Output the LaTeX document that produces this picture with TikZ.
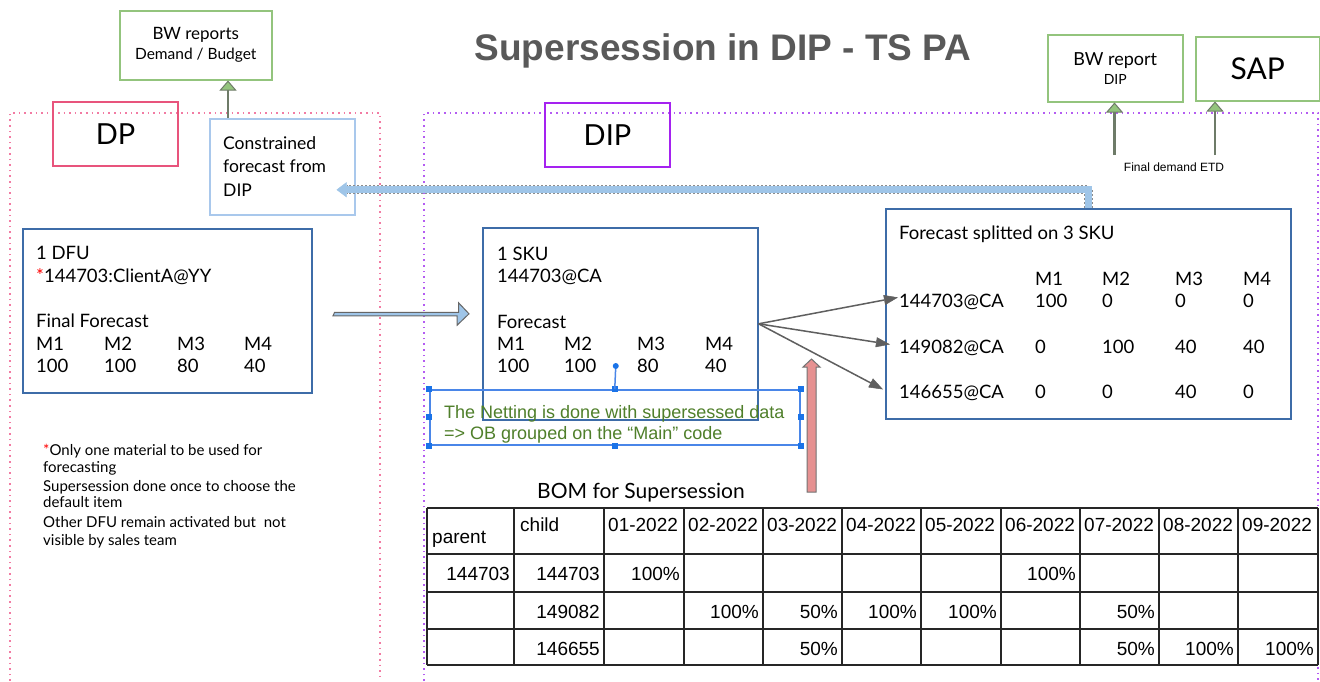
\documentclass[tikz,border=0pt]{standalone}
\usepackage{fontspec}
\setmainfont{Lato}
\newfontfamily\arialfont{Liberation Sans}
\usetikzlibrary{arrows.meta,calc}

\definecolor{bwgreen}{HTML}{93C47D}
\definecolor{arrowgreen}{HTML}{6E7B68}
\definecolor{dppink}{HTML}{E8547C}
\definecolor{dpframe}{HTML}{F27BA3}
\definecolor{dippurple}{HTML}{A522F0}
\definecolor{dipframe}{HTML}{B45CF2}
\definecolor{lightblue}{HTML}{A9C8EC}
\definecolor{boxblue}{HTML}{3D6CA8}
\definecolor{selblue}{HTML}{4A86E8}
\definecolor{handleblue}{HTML}{1A73E8}
\definecolor{netgreen}{HTML}{4F7F2A}
\definecolor{bandblue}{HTML}{9FC5E8}
\definecolor{redfill}{HTML}{E69191}
\definecolor{titlegray}{HTML}{595959}
\definecolor{arrowgray}{HTML}{5F5F5F}

\tikzset{
  box/.style={draw, line width=1.5pt, inner sep=0pt, anchor=north west, align=center},
  greenbox/.style={box, draw=bwgreen},
  bluebox/.style={box, draw=boxblue, line width=1.6pt},
  txt/.style={anchor=base west, inner sep=0pt, font=\fontsize{18.5}{22}\selectfont},
  note/.style={anchor=base west, inner sep=0pt, font=\fontsize{15}{18}\selectfont},
  num/.style={anchor=base east, inner sep=0pt, font=\arialfont\fontsize{19}{22}\selectfont},
  greenarrow/.style={draw=arrowgreen, line width=2.5pt, -{Triangle[length=10pt,width=17pt,fill=bwgreen,line width=1pt]}},
  grayarrow/.style={draw=arrowgray, line width=1.5pt, -{Triangle[length=14pt,width=10pt,line width=0.5pt]}},
  frame/.style={line width=1.6pt, dash pattern=on 1.6pt off 4pt},
  tableline/.style={draw=black!85, line width=1.5pt},
}

\begin{document}
\begin{tikzpicture}[x=1pt,y=-1pt]
\useasboundingbox[fill=white] (0,0) rectangle (1320,681);

% dotted frames
\draw[frame, dpframe] (10,681) -- (10,113) -- (380,113) -- (380,681);
\draw[frame, dipframe] (424,681) -- (424,113) -- (1318,113) -- (1318,681);

% title
\node[font=\arialfont\bfseries\fontsize{37}{40}\selectfont, text=titlegray, anchor=base] (title) at (723,60) {Supersession in DIP - TS PA};

% reports and systems
\node[greenbox, minimum width=152, minimum height=69, font=\fontsize{17}{20}\selectfont] (bwrep) at (119,10) {BW reports\\{\fontsize{15.5}{18}\selectfont Demand / Budget}};
\node[greenbox, minimum width=135, minimum height=67, font=\fontsize{18}{19}\selectfont] (bwdip) at (1047,34) {BW report\\{\fontsize{14}{16}\selectfont DIP}};
\node[greenbox, minimum width=124, minimum height=64, font=\fontsize{30}{32}\selectfont] (sap) at (1195,36) {SAP};
\node[font=\arialfont\fontsize{12}{14}\selectfont, anchor=base] (etd) at (1174,171) {Final demand ETD};

% DP side
\node[box, draw=dppink, line width=2pt, minimum width=125, minimum height=64, font=\fontsize{29}{32}\selectfont] (dp) at (52,101) {DP};
\node[box, draw=lightblue, minimum width=145, minimum height=96] (cons) at (209,118) {};
\foreach \t [count=\i] in {Constrained, forecast from, DIP}
  \node[txt, font=\fontsize{17.5}{20}\selectfont] (cons\i) at (223,{149+23.5*(\i-1)}) {\t};

% DFU
\node[bluebox, minimum width=289, minimum height=164] (dfu) at (22,228) {};
\node[txt] (dfu1) at (36,259) {1 DFU};
\node[txt] (dfu2) at (36,282) {\textcolor{red}{*}144703:ClientA@YY};
\node[txt] (dfu3) at (36,327) {Final Forecast};
\foreach \x/\m/\v [count=\i] in {36/M1/100, 104/M2/100, 177/M3/80, 244/M4/40} {
  \node[txt] (dfum\i) at (\x,350) {\m};
  \node[txt] (dfuv\i) at (\x,372) {\v};
}

% notes
\foreach \y/\t [count=\i] in {455/{\textcolor{red}{*}Only one material to be used for}, 472/forecasting,
    491/Supersession done once to choose the, 507/default item,
    527/{Other DFU remain activated but\ \ not}, 545/visible by sales team}
  \node[note] (note\i) at (43,\y) {\t};

% DIP side
\node[box, draw=dippurple, line width=2pt, minimum width=125, minimum height=64, font=\fontsize{29}{32}\selectfont] (dip) at (544,102) {DIP};

% SKU
\node[bluebox, minimum width=275, minimum height=192] (sku) at (482,227) {};
\node[txt] (sku1) at (497,260) {1 SKU};
\node[txt] (sku2) at (497,282) {144703@CA};
\node[txt] (sku3) at (497,328) {Forecast};
\foreach \x/\m/\v [count=\i] in {497/M1/100, 564/M2/100, 637/M3/80, 705/M4/40} {
  \node[txt] (skum\i) at (\x,350) {\m};
  \node[txt] (skuv\i) at (\x,372) {\v};
}

% split on 3 SKU
\node[bluebox, minimum width=405, minimum height=210] (split) at (885,208) {};
\node[txt] (splittitle) at (899,239) {Forecast splitted on 3 SKU};
\foreach \x/\m [count=\i] in {1035/M1, 1102/M2, 1175/M3, 1243/M4}
  \node[txt] (splitm\i) at (\x,285) {\m};
\foreach \y/\s/\a/\b/\c/\d [count=\i] in {307/144703@CA/100/0/0/0, 353/149082@CA/0/100/40/40, 398/146655@CA/0/0/40/0} {
  \node[txt] (row\i) at (899,\y) {\s};
  \node[txt] (row\i a) at (1035,\y) {\a};
  \node[txt] (row\i b) at (1102,\y) {\b};
  \node[txt] (row\i c) at (1175,\y) {\c};
  \node[txt] (row\i d) at (1243,\y) {\d};
}

% netting text box (selected)
\node[box, draw=selblue, minimum width=370, minimum height=55] (netbox) at (429,389) {};
\foreach \a in {north west, north, north east, east, south east, south, south west, west}
  \fill[handleblue] (netbox.\a) ++(-3,-3) rectangle ++(6,6);
\draw[selblue, line width=1.5pt] (netbox.north) -- ++(1,-23) coordinate (rot);
\fill[handleblue] (rot) circle (3);
\node[anchor=base west, inner sep=0pt, text=netgreen, font=\arialfont\fontsize{18}{21}\selectfont] (net1) at (444,418) {The Netting is done with supersessed data};
\node[anchor=base west, inner sep=0pt, text=netgreen, font=\arialfont\fontsize{18}{21}\selectfont] (net2) at (444,439) {=> OB grouped on the “Main” code};

% arrows
\draw[greenarrow] ([xshift=19]cons.north west) -- ([xshift=19]cons.north west |- bwrep.south);
\coordinate (etdleft) at (1114.5,155);
\coordinate (etdright) at (1215,155);
\draw[greenarrow] (etdleft) -- (etdleft |- bwdip.south);
\draw[greenarrow] (etdright) -- (etdright |- sap.south);

% band back to DP
\draw[draw=black!45, line width=9pt, dash pattern=on 2pt off 2pt] (split.north) |- ([shift={(-9,23)}]cons.east);
\draw[draw=bandblue, line width=7pt, -{Triangle[length=10pt,width=15pt,line width=0.5pt]}] (split.north) |- ([shift={(-19,23)}]cons.east);

% DFU to SKU
\coordinate (fcstart) at ([shift={(22,3.5)}]dfu.east);
\coordinate (fctip) at ([shift={(-13,-10)}]sku.west);
\draw[draw=black!60, fill=bandblue, line width=1pt] (fcstart) ++(0,-2) -- ++(124,0) -- ++(0,-9.5) -- (fctip) -- ++(-12,11.5) -- ++(0,-9.5) -- ++(-124,0) -- cycle;

% SKU to the 3 SKU
\draw[grayarrow] (sku.east) -- ([shift={(-1,-4)}]row1.west);
\draw[grayarrow] (sku.east) -- ([shift={(-9,-3)}]row2.west);
\draw[grayarrow] (sku.east) -- ([shift={(-16,-3)}]row3.west);

% red arrow
\coordinate (redtail) at (811.5,492);
\coordinate (redtip) at (811.5,359);
\draw[draw=black!55, fill=redfill, line width=1pt] (redtail) ++(-4.5,0) -- ++(0,-125) -- ++(-4,0) -- (redtip) -- ++(8.5,8) -- ++(-4,0) -- ++(0,125) -- cycle;

% BOM table
\node[font=\fontsize{21}{24}\selectfont, anchor=base] (bomtitle) at (641,498) {BOM for Supersession};
\foreach \x in {427,514,604,684,763,842,921,1001,1080,1159,1238,1318}
  \draw[tableline] (\x,508) -- (\x,665);
\foreach \y in {508,554,592,629,665}
  \draw[tableline] (427,\y) -- (1318,\y);
\node[num, anchor=base west] (hparent) at (432,543) {parent};
\node[num, anchor=base west] (hchild) at (520,531) {child};
\foreach \x/\d [count=\i] in {604/01,684/02,763/03,842/04,921/05,1001/06,1080/07,1159/08,1238/09}
  \node[num, anchor=base west] (hdate\i) at (\x+4,531) {\d-2022};
\foreach \x/\v [count=\i] in {510/144703, 600/144703, 680/100\%, 1076/100\%}
  \node[num] (ra\i) at (\x,580) {\v};
\foreach \x/\v [count=\i] in {600/149082, 759/100\%, 838/50\%, 917/100\%, 997/100\%, 1155/50\%}
  \node[num] (rb\i) at (\x,618) {\v};
\foreach \x/\v [count=\i] in {600/146655, 838/50\%, 1155/50\%, 1234/100\%, 1314/100\%}
  \node[num] (rc\i) at (\x,655) {\v};

\end{tikzpicture}
\end{document}
